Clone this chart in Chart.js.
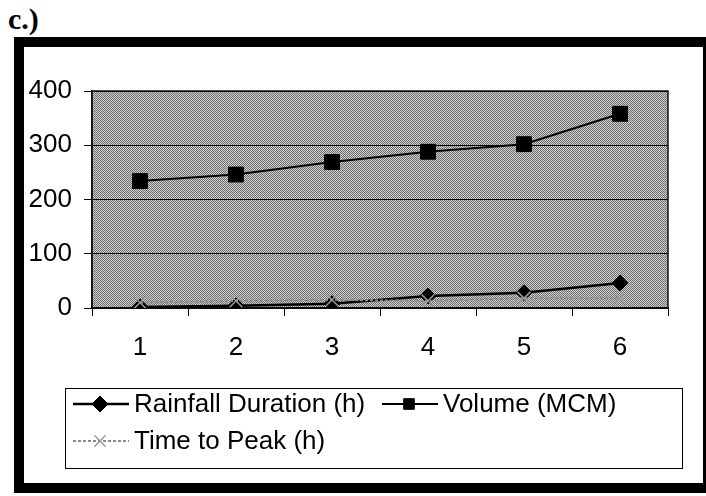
<!DOCTYPE html>
<html><head><meta charset="utf-8">
<script src="https://cdn.jsdelivr.net/npm/chart.js@4"></script>
<style>
html,body{margin:0;padding:0;width:706px;height:496px;overflow:hidden;background:#fff;}
#frame{position:absolute;left:14px;top:37px;width:699px;height:456px;border:10px solid #000;box-sizing:border-box;}
#title{position:absolute;left:8px;top:3px;font:bold 30px "Liberation Serif","Times New Roman",serif;color:#000;line-height:32px;}
#wrap{position:absolute;left:0;top:0;width:706px;height:496px;}
</style></head><body>
<div id="title">c.)</div>
<div id="frame"></div>
<div id="wrap"><canvas id="c" width="706" height="496"></canvas></div>
<script>
const categories = ['1','2','3','4','5','6'];
const rainfallDuration = [2, 4, 8, 22, 28, 46];
const volume = [234, 246, 269, 288, 302, 358];
const timeToPeak = [10, 13, 15, 13, 18, 18];
const yTicks = [0, 100, 200, 300, 400];
const seriesNames = ['Rainfall Duration (h)', 'Volume (MCM)', 'Time to Peak (h)'];

const FONT = '"Liberation Sans", Arial, sans-serif';

function makePattern(ctx){
  const p = document.createElement('canvas');
  p.width = 2; p.height = 2;
  const c = p.getContext('2d');
  c.fillStyle = '#d0d0d0'; c.fillRect(0,0,2,2);
  c.fillStyle = '#6e6e6e'; c.fillRect(0,0,1,1); c.fillRect(1,1,1,1);
  return ctx.createPattern(p,'repeat');
}

function drawMarker(ctx, style, x, y, r, fill, stroke, lw){
  ctx.save();
  ctx.fillStyle = fill; ctx.strokeStyle = stroke; ctx.lineWidth = lw; ctx.setLineDash([]);
  ctx.beginPath();
  if (style === 'rectRot'){
    ctx.moveTo(x, y-r); ctx.lineTo(x+r, y); ctx.lineTo(x, y+r); ctx.lineTo(x-r, y); ctx.closePath();
    ctx.fill(); ctx.stroke();
  } else if (style === 'rect'){
    const s = r*Math.SQRT1_2;
    ctx.rect(x-s, y-s, 2*s, 2*s); ctx.fill(); ctx.stroke();
  } else if (style === 'crossRot'){
    const s = r*Math.SQRT1_2;
    ctx.moveTo(x-s,y-s); ctx.lineTo(x+s,y+s); ctx.moveTo(x+s,y-s); ctx.lineTo(x-s,y+s); ctx.stroke();
  }
  ctx.restore();
}

const bgPlugin = {
  id: 'bg',
  beforeDraw(chart){
    const {ctx, chartArea:a} = chart;
    ctx.save();
    ctx.fillStyle = makePattern(ctx);
    ctx.fillRect(a.left, a.top, a.right-a.left, a.bottom-a.top);
    ctx.restore();
  },
  beforeDatasetsDraw(chart){
    const {ctx, chartArea:a} = chart;
    ctx.save();
    ctx.strokeStyle = '#111'; ctx.lineWidth = 1.5;
    ctx.strokeRect(a.left, a.top, a.right-a.left, a.bottom-a.top);
    ctx.restore();
  }
};

const legendPlugin = {
  id: 'customLegend',
  afterDraw(chart){
    const ctx = chart.ctx;
    ctx.save();
    ctx.strokeStyle = '#000'; ctx.lineWidth = 1;
    ctx.strokeRect(65.5, 388.5, 617, 80);
    const pos = [[73, 404], [382, 404], [73, 441]];
    const radii = [8, 7.5, 8];
    chart.data.datasets.forEach((ds, i) => {
      const [x, y] = pos[i];
      ctx.save();
      ctx.strokeStyle = ds.borderColor; ctx.lineWidth = ds.borderWidth;
      ctx.setLineDash(ds.borderDash || []);
      ctx.beginPath(); ctx.moveTo(x, y); ctx.lineTo(x+56, y); ctx.stroke();
      ctx.restore();
      drawMarker(ctx, ds.pointStyle, x+27, y, radii[i], ds.pointBackgroundColor, ds.pointBorderColor, ds.pointBorderWidth);
      ctx.fillStyle = '#000';
      ctx.font = '26px ' + FONT;
      ctx.textBaseline = 'middle'; ctx.textAlign = 'left';
      ctx.fillText(ds.label, x+61, y+1);
    });
    ctx.restore();
  }
};

new Chart(document.getElementById('c'), {
  type: 'line',
  data: {
    labels: categories,
    datasets: [
      { label: seriesNames[0], data: rainfallDuration, borderColor: '#000', borderWidth: 2.5,
        pointStyle: 'rectRot', pointRadius: 8, pointBackgroundColor: '#000', pointBorderColor: '#000', pointBorderWidth: 1, order: 2 },
      { label: seriesNames[1], data: volume, borderColor: '#000', borderWidth: 2,
        pointStyle: 'rect', pointRadius: 10.5, pointBackgroundColor: '#000', pointBorderColor: '#000', pointBorderWidth: 1, order: 1 },
      { label: seriesNames[2], data: timeToPeak, borderColor: '#8a8a8a', borderWidth: 2, borderDash: [3,2],
        pointStyle: 'crossRot', pointRadius: 9, pointBackgroundColor: '#9a9a9a', pointBorderColor: '#9a9a9a', pointBorderWidth: 1.5, order: 0 }
    ]
  },
  options: {
    responsive: false,
    animation: false,
    devicePixelRatio: 1,
    layout: { padding: { left: 0, top: 91, right: 38, bottom: 128 } },
    plugins: { legend: { display: false }, tooltip: { enabled: false } },
    elements: { line: { tension: 0 } },
    scales: {
      x: {
        type: 'category', offset: true,
        grid: { offset: true, drawOnChartArea: false, drawTicks: true, tickLength: 8, color: '#000', lineWidth: 1 },
        border: { display: true, color: '#000', width: 1.5 },
        ticks: { font: { size: 26, family: FONT }, color: '#000', padding: 16 },
        afterFit(s){ s.height = 60; }
      },
      y: {
        min: 0, max: 400,
        afterBuildTicks(s){ s.ticks = yTicks.map(v => ({value: v})); },
        grid: { color: '#000', lineWidth: 1, tickLength: 8, drawTicks: true },
        border: { display: true, color: '#000', width: 1.5 },
        ticks: { font: { size: 26, family: FONT }, color: '#000', padding: 12 },
        afterFit(s){ s.width = 92; }
      }
    }
  },
  plugins: [bgPlugin, legendPlugin]
});
</script>
</body></html>
